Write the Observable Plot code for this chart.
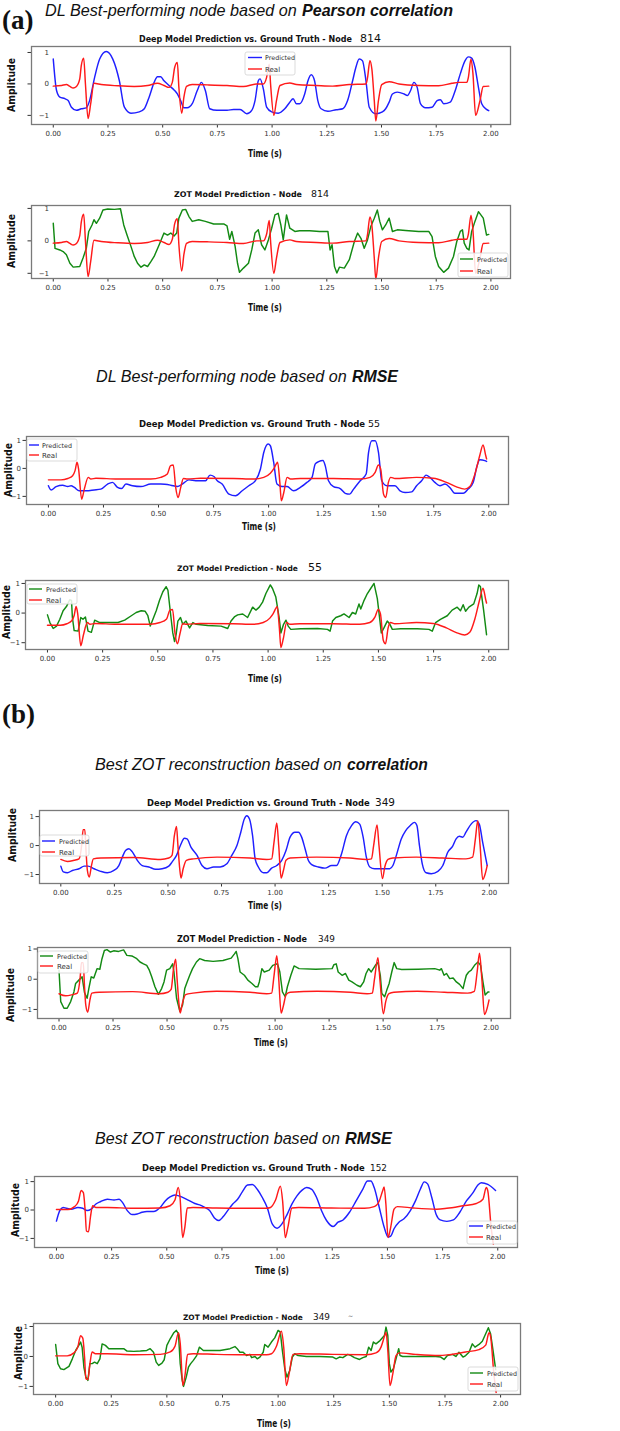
<!DOCTYPE html>
<html>
<head>
<meta charset="utf-8">
<script src="https://cdn.jsdelivr.net/npm/d3@7"></script>
<script src="https://cdn.jsdelivr.net/npm/@observablehq/plot@0.6"></script>
<style>
  body { margin: 0; background: #fff; }
  #page { position: relative; width: 620px; height: 1431px; overflow: hidden; background: #fff; }
  #page > svg { position: absolute; left: 0; }
</style>
</head>
<body>
<div id="page"></div>
<script>
// ---- Signals: [time (s), amplitude] ----
const deep814 = [[0,0.79],[0.015,-0.21],[0.03,-0.42],[0.053,-0.47],[0.068,-0.53],[0.083,-0.74],[0.106,-0.84],[0.128,-0.79],[0.151,-0.76],[0.166,-0.53],[0.189,0.21],[0.212,0.79],[0.242,1.03],[0.272,0.79],[0.302,0.1],[0.325,-0.74],[0.355,-0.93],[0.393,-0.89],[0.416,-0.79],[0.438,-0.42],[0.461,0.05],[0.476,0.23],[0.491,0.23],[0.506,0.1],[0.529,-0.05],[0.552,-0.19],[0.567,-0.32],[0.582,-0.53],[0.597,-0.76],[0.612,-0.76],[0.635,-0.63],[0.658,-0.21],[0.677,0.05],[0.695,-0.21],[0.715,-0.79],[0.748,-0.84],[0.794,-0.84],[0.824,-0.81],[0.854,-0.81],[0.884,-0.95],[0.907,-0.84],[0.922,-0.53],[0.937,0.1],[0.945,0.16],[0.96,-0.16],[0.975,-0.74],[0.998,-0.89],[1.028,-0.93],[1.058,-0.79],[1.081,-0.58],[1.096,-0.47],[1.111,-0.63],[1.126,-0.63],[1.149,-0.32],[1.164,0.1],[1.179,0.29],[1.194,0.1],[1.209,-0.53],[1.224,-0.79],[1.255,-0.87],[1.293,-0.82],[1.323,-0.79],[1.345,-0.53],[1.368,0.1],[1.383,0.53],[1.398,0.79],[1.413,0.74],[1.429,0.1],[1.444,-0.74],[1.474,-0.95],[1.504,-0.89],[1.519,-0.79],[1.535,-0.58],[1.55,-0.32],[1.572,-0.26],[1.603,-0.32],[1.618,-0.37],[1.633,-0.21],[1.648,0.05],[1.663,-0.11],[1.678,-0.63],[1.701,-0.76],[1.731,-0.74],[1.754,-0.53],[1.769,-0.5],[1.784,-0.63],[1.814,-0.58],[1.837,-0.21],[1.86,0.32],[1.882,0.74],[1.897,0.86],[1.912,0.82],[1.927,0.53],[1.943,-0.11],[1.958,-0.63],[1.98,-0.81],[1.99,-0.85]];

const zot814 = [[0,0.54],[0.008,-0.23],[0.03,-0.28],[0.045,-0.33],[0.06,-0.43],[0.076,-0.69],[0.091,-0.81],[0.121,-0.79],[0.136,-0.53],[0.151,-0.23],[0.162,0.29],[0.177,0.49],[0.186,0.65],[0.197,0.54],[0.212,0.7],[0.227,0.95],[0.249,0.98],[0.28,0.97],[0.307,0.99],[0.322,0.49],[0.337,0.18],[0.355,-0.17],[0.37,-0.48],[0.385,-0.69],[0.401,-0.81],[0.416,-0.74],[0.431,-0.79],[0.446,-0.64],[0.461,-0.48],[0.484,-0.12],[0.506,0.24],[0.522,0.18],[0.537,0.24],[0.552,0.15],[0.564,0.24],[0.574,0.7],[0.59,0.95],[0.605,0.97],[0.62,0.75],[0.635,0.6],[0.665,0.65],[0.695,0.6],[0.733,0.52],[0.779,0.52],[0.794,0.46],[0.806,0.05],[0.816,0.29],[0.831,-0.17],[0.842,-0.69],[0.851,-0.97],[0.869,-0.84],[0.892,-0.69],[0.907,-0.28],[0.922,0.24],[0.937,0.34],[0.952,-0.12],[0.967,-0.28],[0.983,0.03],[0.998,0.39],[1.013,0.8],[1.028,0.85],[1.04,0.49],[1.051,0.03],[1.066,0.8],[1.081,0.39],[1.104,0.29],[1.126,0.31],[1.172,0.31],[1.217,0.29],[1.255,0.29],[1.265,-0.28],[1.274,-0.12],[1.285,-0.79],[1.296,-0.99],[1.308,-0.81],[1.33,-0.84],[1.353,-0.58],[1.376,-0.02],[1.391,0.24],[1.406,0.08],[1.421,-0.23],[1.436,0.03],[1.451,0.44],[1.467,0.7],[1.481,0.95],[1.492,0.6],[1.504,0.34],[1.519,0.49],[1.535,0.7],[1.55,0.29],[1.572,0.34],[1.61,0.32],[1.67,0.29],[1.716,0.29],[1.731,0.13],[1.746,-0.48],[1.761,-0.79],[1.784,-0.97],[1.806,-0.84],[1.829,-0.48],[1.844,-0.02],[1.86,0.29],[1.87,0.34],[1.878,-0.07],[1.89,-0.23],[1.9,-0.28],[1.912,0.29],[1.927,0.6],[1.943,0.9],[1.965,0.7],[1.98,0.18],[1.99,0.2]];

const real814 = [[0,-0.07],[0.038,-0.05],[0.06,-0.02],[0.076,-0.08],[0.091,-0.13],[0.106,-0.08],[0.121,0.16],[0.128,0.58],[0.139,0.82],[0.147,0],[0.159,-1.1],[0.171,-0.63],[0.186,0.02],[0.219,-0.02],[0.295,-0.06],[0.37,-0.08],[0.431,-0.05],[0.476,0.02],[0.506,-0.05],[0.529,-0.11],[0.544,0.05],[0.555,0.53],[0.567,0.68],[0.574,-0.11],[0.587,-0.93],[0.597,-0.42],[0.609,-0.08],[0.635,-0.02],[0.703,-0.03],[0.794,-0.05],[0.869,-0.08],[0.93,0],[0.96,0],[0.975,0.21],[0.987,0.63],[0.993,0],[1.008,-1.0],[1.02,-0.53],[1.036,-0.05],[1.081,0.03],[1.111,-0.02],[1.202,-0.05],[1.277,-0.07],[1.353,-0.02],[1.429,0],[1.436,0.19],[1.447,0.74],[1.456,0.47],[1.467,-0.53],[1.474,-1.18],[1.486,-0.53],[1.501,-0.02],[1.535,0.07],[1.58,0],[1.671,-0.05],[1.761,-0.06],[1.822,0.02],[1.852,0.05],[1.89,0.05],[1.897,0.21],[1.909,0.79],[1.918,0.32],[1.93,-1.0],[1.95,-0.53],[1.965,-0.08],[1.99,-0.07]];

const deep55 = [[0,-0.62],[0.012,-0.77],[0.035,-0.65],[0.065,-0.6],[0.088,-0.65],[0.103,-0.62],[0.118,-0.68],[0.14,-0.8],[0.171,-0.8],[0.208,-0.77],[0.238,-0.74],[0.269,-0.56],[0.291,-0.5],[0.314,-0.68],[0.332,-0.72],[0.352,-0.56],[0.382,-0.62],[0.42,-0.65],[0.465,-0.56],[0.51,-0.56],[0.555,-0.6],[0.586,-0.65],[0.608,-0.56],[0.638,-0.41],[0.669,-0.44],[0.691,-0.44],[0.714,-0.44],[0.734,-0.24],[0.752,-0.29],[0.767,-0.44],[0.789,-0.56],[0.82,-0.92],[0.85,-0.98],[0.88,-0.8],[0.91,-0.62],[0.94,-0.44],[0.963,-0.02],[0.978,0.57],[0.998,0.87],[1.008,0.81],[1.023,0.22],[1.038,-0.56],[1.061,-0.65],[1.084,-0.65],[1.114,-0.8],[1.144,-0.68],[1.174,-0.5],[1.197,-0.32],[1.212,0.16],[1.227,0.24],[1.247,0.28],[1.257,0.1],[1.272,-0.44],[1.295,-0.65],[1.325,-0.72],[1.348,-0.89],[1.368,-0.92],[1.386,-0.74],[1.416,-0.44],[1.443,-0.2],[1.454,0.57],[1.469,0.99],[1.484,0.99],[1.499,0.57],[1.514,-0.44],[1.537,-0.62],[1.574,-0.62],[1.597,-0.8],[1.62,-0.86],[1.65,-0.84],[1.672,-0.62],[1.695,-0.44],[1.715,-0.24],[1.733,-0.32],[1.755,-0.5],[1.778,-0.62],[1.801,-0.56],[1.823,-0.68],[1.846,-0.89],[1.884,-0.89],[1.906,-0.74],[1.929,-0.5],[1.947,0.1],[1.959,0.31],[1.982,0.28],[1.99,0.25]];

const zot55 = [[0,-0.06],[0.011,-0.32],[0.026,-0.52],[0.041,-0.44],[0.056,-0.21],[0.071,0.08],[0.086,0.22],[0.101,0.45],[0.109,0.43],[0.113,-0.15],[0.121,-0.59],[0.139,-0.61],[0.151,-0.15],[0.161,-0.21],[0.172,-0.13],[0.184,-0.61],[0.199,-0.65],[0.214,-0.24],[0.237,-0.32],[0.274,-0.32],[0.32,-0.32],[0.35,-0.24],[0.38,-0.09],[0.402,0.02],[0.425,0.08],[0.443,0.06],[0.455,-0.09],[0.466,-0.44],[0.478,-0.21],[0.493,0.08],[0.508,0.43],[0.523,0.72],[0.538,0.89],[0.546,0.77],[0.558,-0.03],[0.568,-0.67],[0.576,-0.96],[0.583,-0.73],[0.591,-0.27],[0.603,-0.15],[0.613,-0.38],[0.628,-0.27],[0.644,-0.5],[0.659,-0.32],[0.674,-0.38],[0.726,-0.42],[0.787,-0.44],[0.817,-0.52],[0.832,-0.27],[0.847,-0.13],[0.862,-0.06],[0.885,-0.03],[0.907,-0.15],[0.93,0.2],[0.945,0.1],[0.96,0.2],[0.975,0.37],[0.99,0.66],[1.01,0.95],[1.02,0.83],[1.035,0.54],[1.05,-0.15],[1.058,-0.67],[1.07,-0.38],[1.081,-0.24],[1.091,-0.44],[1.103,-0.55],[1.148,-0.53],[1.224,-0.52],[1.269,-0.55],[1.281,-0.61],[1.292,-0.27],[1.307,-0.15],[1.329,-0.09],[1.344,-0.03],[1.367,-0.15],[1.382,0.02],[1.397,-0.03],[1.412,0.31],[1.42,0.14],[1.435,0.43],[1.45,0.66],[1.465,0.83],[1.48,1.0],[1.495,0.49],[1.507,-0.27],[1.513,-0.67],[1.525,-0.5],[1.54,-0.27],[1.552,-0.38],[1.563,-0.55],[1.601,-0.53],[1.676,-0.53],[1.729,-0.55],[1.744,-0.61],[1.759,-0.32],[1.781,-0.21],[1.812,-0.09],[1.834,0.1],[1.857,0.2],[1.872,0.08],[1.884,0.28],[1.895,0.06],[1.91,0.2],[1.932,0.31],[1.947,0.66],[1.955,0.95],[1.962,0.9],[1.977,0.08],[1.99,-0.73]];

const real55 = [[0,-0.41],[0.057,-0.41],[0.088,-0.36],[0.11,-0.26],[0.121,-0.08],[0.13,0.22],[0.137,-0.02],[0.151,-1.1],[0.163,-0.74],[0.181,-0.32],[0.193,-0.38],[0.216,-0.35],[0.314,-0.38],[0.465,-0.38],[0.51,-0.32],[0.54,-0.2],[0.555,0.1],[0.567,0.12],[0.578,-0.68],[0.589,-1.04],[0.601,-0.68],[0.613,-0.36],[0.631,-0.38],[0.691,-0.35],[0.842,-0.36],[0.933,-0.38],[0.978,-0.32],[1.008,-0.17],[1.023,-0.02],[1.035,0.16],[1.041,0.22],[1.051,-0.5],[1.058,-1.16],[1.069,-0.86],[1.084,-0.32],[1.099,-0.38],[1.144,-0.36],[1.295,-0.36],[1.416,-0.38],[1.461,-0.32],[1.484,-0.14],[1.499,0.12],[1.509,-0.02],[1.522,-0.92],[1.532,-1.04],[1.544,-0.5],[1.555,-0.32],[1.574,-0.36],[1.672,-0.32],[1.748,-0.35],[1.808,-0.5],[1.853,-0.66],[1.891,-0.74],[1.914,-0.65],[1.937,-0.2],[1.959,0.46],[1.974,0.84],[1.986,0.46],[1.99,0.34]];

const deep349 = [[0,-0.71],[0.012,-0.91],[0.031,-0.94],[0.054,-0.86],[0.085,-0.8],[0.109,-0.71],[0.127,-0.71],[0.155,-0.8],[0.186,-0.89],[0.217,-0.94],[0.248,-0.86],[0.271,-0.69],[0.287,-0.4],[0.302,-0.17],[0.318,-0.11],[0.333,-0.21],[0.357,-0.51],[0.38,-0.69],[0.411,-0.74],[0.442,-0.82],[0.473,-0.8],[0.504,-0.71],[0.519,-0.57],[0.54,-0.34],[0.558,0],[0.577,0.25],[0.589,0.23],[0.608,-0.06],[0.636,-0.34],[0.659,-0.69],[0.682,-0.8],[0.713,-0.74],[0.744,-0.74],[0.775,-0.63],[0.798,-0.34],[0.822,0],[0.84,0.46],[0.856,0.91],[0.868,1.03],[0.881,0.91],[0.895,0.34],[0.907,-0.46],[0.922,-0.74],[0.946,-0.94],[0.961,-0.94],[0.984,-0.78],[1.008,-0.69],[1.031,-0.51],[1.051,-0.17],[1.07,0.29],[1.093,0.46],[1.109,0.46],[1.124,0.29],[1.14,-0.11],[1.155,-0.51],[1.171,-0.66],[1.202,-0.74],[1.233,-0.78],[1.264,-0.69],[1.287,-0.69],[1.31,-0.29],[1.333,0.34],[1.357,0.69],[1.377,0.82],[1.395,0.74],[1.411,0.29],[1.426,-0.4],[1.442,-0.74],[1.465,-0.8],[1.504,-0.8],[1.535,-0.8],[1.55,-0.69],[1.566,-0.34],[1.589,0.23],[1.609,0.51],[1.631,0.69],[1.651,0.8],[1.662,0.69],[1.674,0],[1.687,-0.63],[1.705,-0.94],[1.729,-0.97],[1.76,-0.89],[1.783,-0.69],[1.806,-0.23],[1.829,-0.02],[1.845,0.23],[1.86,0.32],[1.876,0.29],[1.891,0.46],[1.915,0.74],[1.938,0.86],[1.953,0.74],[1.969,0.11],[1.99,-0.69]];

const zot349 = [[0,0.3],[0.008,-0.74],[0.023,-0.96],[0.038,-0.96],[0.054,-0.74],[0.069,-0.42],[0.077,-0.14],[0.092,-0.03],[0.107,0.08],[0.118,-0.44],[0.13,-0.63],[0.138,-0.31],[0.149,0.08],[0.161,0.04],[0.176,0.35],[0.189,0.33],[0.199,0.68],[0.21,0.95],[0.222,0.98],[0.238,0.9],[0.253,0.94],[0.276,0.92],[0.299,0.97],[0.314,0.79],[0.337,0.77],[0.36,0.68],[0.375,0.57],[0.391,0.51],[0.406,0.46],[0.418,0.3],[0.429,0.08],[0.444,-0.25],[0.46,-0.5],[0.475,-0.31],[0.486,-0.09],[0.498,0.3],[0.513,0.35],[0.526,0.51],[0.532,0.24],[0.544,-0.63],[0.559,-1.05],[0.572,-0.85],[0.582,-0.31],[0.593,-0.09],[0.605,0.13],[0.618,0.35],[0.636,0.57],[0.651,0.68],[0.674,0.62],[0.713,0.59],[0.759,0.62],[0.797,0.7],[0.812,0.84],[0.82,0.92],[0.828,0.68],[0.838,0.24],[0.858,0.13],[0.874,-0.03],[0.893,-0.14],[0.909,-0.25],[0.92,-0.25],[0.927,-0.09],[0.939,0.35],[0.95,0.24],[0.973,0.3],[0.989,0.46],[1.011,0.51],[1.022,0.24],[1.034,-0.42],[1.047,-0.58],[1.057,-0.25],[1.073,0.13],[1.088,0.44],[1.111,0.35],[1.188,0.33],[1.264,0.35],[1.272,0.48],[1.283,0.51],[1.292,0.24],[1.31,0.13],[1.326,0.19],[1.341,-0.03],[1.356,-0.09],[1.379,-0.2],[1.395,-0.25],[1.41,-0.09],[1.421,0.19],[1.433,0.35],[1.445,0.24],[1.464,0.46],[1.476,0.55],[1.487,0.13],[1.494,-0.47],[1.507,-0.58],[1.517,-0.36],[1.528,-0.14],[1.54,0.24],[1.551,0.55],[1.563,0.35],[1.586,0.32],[1.663,0.33],[1.739,0.35],[1.762,0.3],[1.77,0.35],[1.782,0.13],[1.793,0.19],[1.808,0.02],[1.824,0.04],[1.839,-0.09],[1.854,-0.17],[1.87,-0.31],[1.877,-0.09],[1.885,0.13],[1.896,0.24],[1.908,0.3],[1.923,0.46],[1.939,0.57],[1.951,0.46],[1.962,-0.09],[1.972,-0.52],[1.985,-0.42],[1.99,-0.42]];

const real349 = [[0,-0.48],[0.031,-0.55],[0.062,-0.51],[0.085,-0.46],[0.098,0.06],[0.104,0.55],[0.112,0.55],[0.118,-0.23],[0.124,-0.86],[0.133,-1.09],[0.143,-0.69],[0.152,-0.46],[0.186,-0.43],[0.341,-0.41],[0.465,-0.48],[0.504,-0.43],[0.519,-0.34],[0.53,0.34],[0.54,0.66],[0.546,0.06],[0.555,-0.8],[0.561,-1.12],[0.571,-0.8],[0.586,-0.51],[0.62,-0.46],[0.729,-0.4],[0.884,-0.43],[0.961,-0.48],[0.984,-0.46],[0.995,0.11],[1.008,0.78],[1.017,0],[1.028,-1.12],[1.039,-0.86],[1.051,-0.51],[1.07,-0.43],[1.194,-0.4],[1.349,-0.43],[1.426,-0.48],[1.45,-0.46],[1.46,0],[1.476,0.71],[1.485,0],[1.501,-1.14],[1.512,-0.74],[1.527,-0.48],[1.55,-0.43],[1.659,-0.4],[1.783,-0.43],[1.891,-0.46],[1.922,-0.4],[1.935,0.23],[1.946,0.86],[1.957,0],[1.969,-1.17],[1.981,-0.97],[1.99,-0.69]];

const deep152 = [[0,-0.39],[0.015,-0.02],[0.03,0.09],[0.045,0.06],[0.067,0.03],[0.097,0.09],[0.119,0.06],[0.139,-0.02],[0.157,0.03],[0.179,0.21],[0.201,0.3],[0.231,0.38],[0.261,0.35],[0.284,0.38],[0.299,0.27],[0.321,-0.02],[0.343,-0.16],[0.366,-0.14],[0.388,-0.08],[0.41,-0.05],[0.44,-0.05],[0.47,0.09],[0.493,0.32],[0.515,0.46],[0.537,0.53],[0.567,0.46],[0.597,0.35],[0.627,0.23],[0.649,0.18],[0.672,0.09],[0.694,-0.02],[0.716,-0.28],[0.736,-0.37],[0.754,-0.25],[0.776,-0.02],[0.799,0.21],[0.821,0.38],[0.843,0.65],[0.866,0.88],[0.888,0.9],[0.91,0.73],[0.933,0.44],[0.955,0.09],[0.978,-0.49],[1.0,-0.64],[1.022,-0.49],[1.045,-0.16],[1.067,0.21],[1.09,0.5],[1.112,0.69],[1.134,0.79],[1.157,0.73],[1.179,0.44],[1.201,-0.02],[1.224,-0.37],[1.254,-0.58],[1.276,-0.43],[1.299,-0.35],[1.328,-0.08],[1.358,0.32],[1.388,0.73],[1.41,1.02],[1.425,1.02],[1.44,0.79],[1.463,0.09],[1.485,-0.6],[1.503,-0.95],[1.515,-0.92],[1.53,-0.66],[1.552,-0.43],[1.575,-0.31],[1.604,-0.02],[1.627,0.32],[1.649,0.73],[1.667,0.99],[1.682,0.92],[1.701,0.44],[1.721,-0.16],[1.739,-0.35],[1.769,-0.4],[1.799,-0.35],[1.828,-0.08],[1.858,0.32],[1.888,0.61],[1.91,0.88],[1.925,0.96],[1.955,0.9],[1.99,0.69]];

const zot152 = [[0,0.4],[0.01,-0.24],[0.022,-0.41],[0.037,-0.44],[0.06,-0.33],[0.075,-0.08],[0.09,0.2],[0.104,0.37],[0.112,0.48],[0.119,0.31],[0.127,-0.36],[0.136,-0.69],[0.145,-0.8],[0.154,-0.24],[0.164,-0.24],[0.175,-0.19],[0.187,-0.24],[0.199,-0.08],[0.209,0.42],[0.224,0.37],[0.239,0.26],[0.269,0.26],[0.306,0.26],[0.321,0.18],[0.351,0.17],[0.381,0.18],[0.41,0.2],[0.425,0.26],[0.44,0.14],[0.452,-0.19],[0.463,-0.3],[0.478,-0.22],[0.488,-0.11],[0.5,0.37],[0.515,0.59],[0.53,0.78],[0.542,0.87],[0.552,0.76],[0.56,-0.24],[0.569,-0.8],[0.575,-1.0],[0.587,-0.69],[0.597,-0.36],[0.607,-0.24],[0.619,-0.13],[0.634,0.03],[0.646,0.31],[0.664,0.2],[0.694,0.2],[0.739,0.2],[0.784,0.26],[0.806,0.33],[0.816,0.26],[0.828,0.14],[0.843,0.14],[0.858,0.03],[0.873,0.07],[0.881,-0.04],[0.896,0],[0.906,-0.08],[0.918,-0.02],[0.933,0.14],[0.94,0.4],[0.955,0.31],[0.97,0.48],[0.985,0.62],[1.0,0.87],[1.01,0.81],[1.019,0.2],[1.03,-0.41],[1.04,-0.69],[1.052,-0.47],[1.064,-0.02],[1.075,0.09],[1.09,0.03],[1.127,0],[1.187,0],[1.246,-0.02],[1.261,-0.08],[1.276,-0.02],[1.291,-0.04],[1.313,0.07],[1.328,0.03],[1.343,-0.04],[1.366,-0.1],[1.381,-0.04],[1.396,0],[1.407,0.31],[1.418,0.2],[1.428,0.48],[1.44,0.42],[1.458,0.53],[1.478,0.7],[1.485,0.98],[1.493,0.7],[1.5,-0.24],[1.507,-0.52],[1.518,-0.41],[1.53,-0.08],[1.542,0.26],[1.548,0.03],[1.56,0],[1.619,0],[1.709,0],[1.731,-0.02],[1.746,-0.1],[1.761,0.03],[1.784,0.07],[1.799,0],[1.813,0.14],[1.831,-0.02],[1.843,0.03],[1.858,0.14],[1.873,0.42],[1.885,0.31],[1.903,0.4],[1.918,0.51],[1.933,0.76],[1.945,0.96],[1.955,0.76],[1.966,0.2],[1.978,-0.44]];

const real152 = [[0,0.02],[0.052,0.02],[0.082,0.12],[0.1,0.32],[0.112,0.69],[0.122,0.61],[0.13,-0.02],[0.136,-0.74],[0.145,-0.77],[0.154,-0.25],[0.164,0.15],[0.179,0.09],[0.231,0.09],[0.351,0.06],[0.47,0.07],[0.515,0.15],[0.537,0.35],[0.552,0.79],[0.56,0.44],[0.572,-0.97],[0.582,-0.6],[0.593,0.07],[0.619,0.09],[0.724,0.07],[0.828,0.06],[0.948,0.06],[0.97,0.09],[0.993,0.35],[1.015,0.84],[1.025,0.32],[1.037,-0.97],[1.049,-0.6],[1.067,0.07],[1.097,0.09],[1.246,0.07],[1.396,0.06],[1.44,0.12],[1.463,0.32],[1.478,0.67],[1.485,0.81],[1.493,0.21],[1.503,-0.97],[1.515,-0.6],[1.53,0.03],[1.545,0.12],[1.619,0.07],[1.724,0.03],[1.769,0.06],[1.843,0.15],[1.903,0.23],[1.933,0.38],[1.948,0.79],[1.955,0.67],[1.97,-0.6],[1.98,-1.2]];

const xTicks = [0, 0.25, 0.5, 0.75, 1, 1.25, 1.5, 1.75, 2];
const yTicks = [-1, 0, 1];
const seriesNames = ["Predicted", "Real"];

const BLUE = "#1f1fff", GREEN = "#138a13", RED = "#ff1a1a";

// ---- Panel layout (page coordinates, px) ----
const panels = [
  { title: "Deep Model Prediction vs. Ground Truth - Node", node: "814", pred: deep814, real: real814, color: BLUE,
    tb: 42, tx: 139, tw: 213, nx: 360, nw: 23, ft: 46, fb: 124, fl: 31, fr: 510, yd: [-1.29, 1.19], yIn: true,
    timeX: 265, timeB: 157, ampX: 11, ampY: 85,
    lg: { x: 245, y: 52, w: 50, h: 23, py: 57.5, ry: 69, l0: 248, l1: 262, tx: 265 } },
  { title: "ZOT Model Prediction - Node", node: "814", pred: zot814, real: real814, color: GREEN,
    tb: 197, tx: 174, tw: 128, nx: 311, nw: 16, ft: 205, fb: 278, fl: 31, fr: 510, yd: [-1.16, 1.09], yIn: true,
    timeX: 265, timeB: 311, ampX: 11, ampY: 241,
    lg: { x: 458, y: 253, w: 50, h: 24, py: 259, ry: 271, l0: 460, l1: 473, tx: 477 } },
  { title: "Deep Model Prediction vs. Ground Truth - Node", node: "55", pred: deep55, real: real55, color: BLUE,
    tb: 427, tx: 139, tw: 226, nx: 368, nw: 10, ft: 436, fb: 504, fl: 26, fr: 508, yd: [-1.29, 1.14],
    timeX: 259, timeB: 530, ampX: 8, ampY: 470,
    lg: { x: 27, y: 439, w: 50, h: 22, py: 445, ry: 455, l0: 29, l1: 39, tx: 42 } },
  { title: "ZOT Model Prediction - Node", node: "55", pred: zot55, real: real55, color: GREEN,
    tb: 571, tx: 177, tw: 121, nx: 308, nw: 12, ft: 580, fb: 649, fl: 25, fr: 508, yd: [-1.23, 1.10],
    timeX: 265, timeB: 682, ampX: 6, ampY: 612,
    lg: { x: 27, y: 584, w: 50, h: 20, py: 589, ry: 600, l0: 29, l1: 42, tx: 46 } },
  { title: "Deep Model Prediction vs. Ground Truth - Node", node: "349", pred: deep349, real: real349, color: BLUE,
    tb: 806, tx: 147, tw: 223, nx: 375, nw: 18, ft: 810, fb: 883, fl: 39, fr: 508, yd: [-1.31, 1.21],
    timeX: 265, timeB: 909, ampX: 12, ampY: 835,
    lg: { x: 40, y: 835, w: 49, h: 21, py: 841, ry: 852, l0: 42, l1: 55, tx: 59 } },
  { title: "ZOT Model Prediction - Node", node: "349", pred: zot349, real: real349, color: GREEN,
    tb: 942, tx: 177, tw: 130, nx: 318, nw: 15, ft: 947, fb: 1018, fl: 37, fr: 510, yd: [-1.3, 1.05],
    timeX: 271, timeB: 1046, ampX: 10, ampY: 995,
    lg: { x: 38, y: 951, w: 50, h: 22, py: 956, ry: 966, l0: 40, l1: 53, tx: 57 } },
  { title: "Deep Model Prediction vs. Ground Truth - Node", node: "152", pred: deep152, real: real152, color: BLUE,
    tb: 1171, tx: 142, tw: 223, nx: 370, nw: 15, ft: 1176, fb: 1247, fl: 34, fr: 517, yd: [-1.32, 1.18],
    timeX: 272, timeB: 1274, ampX: 15, ampY: 1210,
    lg: { x: 467, y: 1221, w: 50, h: 23, py: 1226, ry: 1237, l0: 469, l1: 483, tx: 486 } },
  { title: "ZOT Model Prediction - Node", node: "349", pred: zot152, real: real152, color: GREEN,
    tb: 1320, tx: 183, tw: 120, nx: 313, nw: 15, ft: 1323, fb: 1394, fl: 33, fr: 520, yd: [-1.27, 1.1],
    timeX: 274, timeB: 1427, ampX: 18, ampY: 1353, mark: { x: 348, y: 1318 },
    lg: { x: 468, y: 1367, w: 50, h: 24, py: 1373, ry: 1384, l0: 470, l1: 483, tx: 487 } }
];

const page = d3.select("#page");
const fmtY = d => d < 0 ? "\u2212" + Math.abs(d) : String(d);
const SANS = "DejaVu Sans, sans-serif";

// shrink a text's font size until its natural width fits the given width
function fitWidth(sel, width) {
  const node = sel.node();
  const w = node.getComputedTextLength();
  const size = parseFloat(sel.attr("font-size"));
  if (w > width) sel.attr("font-size", (size * width / w).toFixed(2));
  return sel;
}

for (const p of panels) {
  const top = p.tb - 12;
  const bottom = p.timeB + 4;
  const height = bottom - top;
  const curve = p.color === GREEN ? "linear" : "monotone-x";

  const svg = Plot.plot({
    width: 620,
    height,
    marginTop: p.ft - top,
    marginBottom: bottom - p.fb,
    marginLeft: p.fl,
    marginRight: 620 - p.fr,
    style: { background: "transparent", fontFamily: SANS, fontSize: "7px", color: "#333", overflow: "visible" },
    x: { domain: [-0.0995, 2.0895], ticks: xTicks, tickFormat: d3.format(".2f"), tickSize: 3.5, tickPadding: 3, label: null },
    y: { domain: p.yd, ticks: yTicks, tickFormat: fmtY, tickSize: 3.5, tickPadding: p.yIn ? -21 : 2, label: null },
    marks: [
      Plot.line(p.pred, { x: d => d[0], y: d => d[1], stroke: p.color, strokeWidth: 1.45, curve }),
      Plot.line(p.real, { x: d => d[0], y: d => d[1], stroke: RED, strokeWidth: 1.45, curve: "monotone-x" }),
      Plot.frame({ stroke: "#7a7a7a", strokeWidth: 1.3 })
    ]
  });
  svg.style.top = top + "px";
  page.node().appendChild(svg);

  const g = d3.select(svg);
  const Y = v => v - top;
  const label = (x, y, s, opts = {}) => g.append("text")
    .attr("x", x).attr("y", y).attr("text-anchor", opts.anchor || "start")
    .attr("font-family", SANS).attr("font-weight", opts.bold ? "bold" : "normal")
    .attr("font-size", opts.size || 10).attr("fill", opts.fill || "#111")
    .text(s);

  // panel title: bold caption plus node number
  fitWidth(label(p.tx, Y(p.tb), p.title, { bold: true, size: 10 }), p.tw);
  fitWidth(label(p.nx, Y(p.tb), p.node, { size: 11 }), p.nw + 2);
  if (p.mark) label(p.mark.x, Y(p.mark.y), "~", { size: 6, fill: "#555" });

  // axis labels (condensed to the width they occupy)
  label(p.timeX, Y(p.timeB), "Time (s)", { anchor: "middle", bold: true, size: 10.5 })
    .attr("textLength", 34).attr("lengthAdjust", "spacingAndGlyphs");
  label(0, 0, "Amplitude", { anchor: "middle", bold: true, size: 11 })
    .attr("textLength", 54).attr("lengthAdjust", "spacingAndGlyphs")
    .attr("transform", `translate(${p.ampX + 4},${Y(p.ampY)}) rotate(-90)`);

  // legend box
  const L = p.lg;
  g.append("rect").attr("x", L.x).attr("y", Y(L.y)).attr("width", L.w).attr("height", L.h)
    .attr("rx", 2).attr("fill", "white").attr("fill-opacity", 0.85).attr("stroke", "#d2d2d2").attr("stroke-width", 0.8);
  [[seriesNames[0], p.color, L.py], [seriesNames[1], RED, L.ry]].forEach(([name, col, yy]) => {
    g.append("line").attr("x1", L.l0).attr("x2", L.l1).attr("y1", Y(yy)).attr("y2", Y(yy))
      .attr("stroke", col).attr("stroke-width", 1.4);
    fitWidth(label(L.tx, Y(yy) + 2.5, name, { size: 7, fill: "#333" }), name === "Predicted" ? 30 : 16);
  });
}

// ---- Section headings ----
const over = page.append("svg").attr("width", 620).attr("height", 1431)
  .style("top", "0px").style("pointer-events", "none");

function words(x, y, w, s, bold, size) {
  const t = over.append("text").attr("x", x).attr("y", y).attr("text-anchor", "start")
    .attr("font-family", "Liberation Sans, Arial, sans-serif").attr("font-style", "italic")
    .attr("font-weight", bold ? "bold" : "normal")
    .attr("font-size", size).attr("fill", "#111")
    .text(s);
  fitWidth(t, w);
}
function heading(x0, x1, x2, x3, y, plain, strong, size) {
  words(x0, y, x1 - x0, plain, false, size);
  words(x2, y, x3 - x2, strong, true, size);
}
function tag(x, y, s) {
  over.append("text").attr("x", x).attr("y", y).attr("text-anchor", "start")
    .attr("font-family", "Liberation Serif, Times New Roman, serif").attr("font-weight", "bold")
    .attr("font-size", 27).attr("fill", "#111").text(s);
}

tag(2, 29, "(a)");
heading(45, 297, 302, 453, 16, "DL Best-performing node based on", "Pearson correlation", 18);
heading(96, 347, 352, 398, 382, "DL Best-performing node based on", "RMSE", 18);
tag(2, 723, "(b)");
heading(95, 342, 347, 428, 770, "Best ZOT reconstruction based on", "correlation", 18);
heading(95, 340, 345, 392, 1144, "Best ZOT reconstruction based on", "RMSE", 18);
</script>
</body>
</html>
